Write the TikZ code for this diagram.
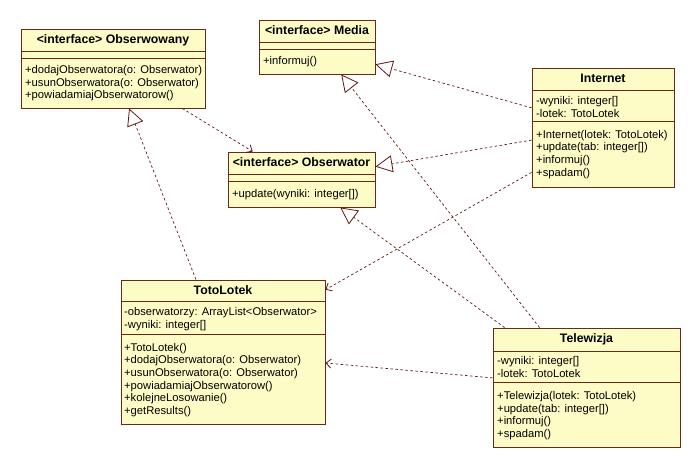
\documentclass[tikz,border=0pt]{standalone}
\usepackage{fontspec}
\setmainfont{Liberation Sans}
\usetikzlibrary{arrows.meta,calc}
\definecolor{clsfill}{RGB}{254,252,198}
\definecolor{clsborder}{RGB}{105,40,25}
\definecolor{connclr}{RGB}{95,25,20}
\begin{document}
\begin{tikzpicture}[x=1pt,y=-1pt,
  cls/.style={draw=clsborder, fill=clsfill, line width=0.9pt, inner sep=0pt, rectangle},
  sepl/.style={draw=clsborder, line width=0.9pt},
  ttl/.style={font=\fontsize{12.3}{14}\selectfont\bfseries, inner sep=0pt, text height=8.5pt, text depth=2.5pt},
  mem/.style={font=\fontsize{11.2}{13}\selectfont, inner sep=0pt, anchor=west, text height=8pt, text depth=2.5pt},
  connline/.style={draw=connclr, line width=0.7pt, dash pattern=on 2.5pt off 2.5pt},
  realize/.style={connline, -{Triangle[open, length=17pt, width=17pt, line width=0.8pt]}},
  depend/.style={connline, -{Straight Barb[length=5pt, width=9pt, line width=0.8pt]}}
]
\useasboundingbox[fill=white] (0,0) rectangle (700,468);

% ---- Obserwowany
\node[cls, minimum width=184pt, minimum height=79pt] (obswany) at (113,68.5) {};
\draw[sepl] ($(obswany.north west)+(0,23)$) -- ($(obswany.north east)+(0,23)$);
\draw[sepl] ($(obswany.north west)+(0,30)$) -- ($(obswany.north east)+(0,30)$);
\node[ttl] (obswany-t) at (113,40.5) {<interface> Obserwowany};
\node[mem] (obswany-m1) at (25,71) {+dodajObserwatora(o: Obserwator)};
\node[mem] (obswany-m2) at (25,83.6) {+usunObserwatora(o: Obserwator)};
\node[mem] (obswany-m3) at (25,96.2) {+powiadamiajObserwatorow()};

% ---- Media
\node[cls, minimum width=116pt, minimum height=54pt] (media) at (317,47) {};
\draw[sepl] ($(media.north west)+(0,23)$) -- ($(media.north east)+(0,23)$);
\draw[sepl] ($(media.north west)+(0,30)$) -- ($(media.north east)+(0,30)$);
\node[ttl] (media-t) at (317,31.5) {<interface> Media};
\node[mem] (media-m1) at (263,62) {+informuj()};

% ---- Obserwator
\node[cls, minimum width=147pt, minimum height=55pt] (obsator) at (301.5,179.5) {};
\draw[sepl] ($(obsator.north west)+(0,23)$) -- ($(obsator.north east)+(0,23)$);
\draw[sepl] ($(obsator.north west)+(0,30)$) -- ($(obsator.north east)+(0,30)$);
\node[ttl] (obsator-t) at (301.5,163.5) {<interface> Obserwator};
\node[mem] (obsator-m1) at (232,194.5) {+update(wyniki: integer[])};

% ---- Internet
\node[cls, minimum width=142pt, minimum height=119pt] (internet) at (603,127.5) {};
\draw[sepl] ($(internet.north west)+(0,23)$) -- ($(internet.north east)+(0,23)$);
\draw[sepl] ($(internet.north west)+(0,54)$) -- ($(internet.north east)+(0,54)$);
\node[ttl] (internet-t) at (603,79.5) {Internet};
\node[mem] (internet-a1) at (536,102) {-wyniki: integer[]};
\node[mem] (internet-a2) at (536,114.6) {-lotek: TotoLotek};
\node[mem] (internet-m1) at (536,135.5) {+Internet(lotek: TotoLotek)};
\node[mem] (internet-m2) at (536,148.1) {+update(tab: integer[])};
\node[mem] (internet-m3) at (536,160.7) {+informuj()};
\node[mem] (internet-m4) at (536,173.3) {+spadam()};

% ---- TotoLotek
\node[cls, minimum width=204pt, minimum height=144pt] (toto) at (223,352) {};
\draw[sepl] ($(toto.north west)+(0,22)$) -- ($(toto.north east)+(0,22)$);
\draw[sepl] ($(toto.north west)+(0,55)$) -- ($(toto.north east)+(0,55)$);
\node[ttl] (toto-t) at (223,291.5) {TotoLotek};
\node[mem] (toto-a1) at (124,313) {-obserwatorzy: ArrayList<Obserwator>};
\node[mem] (toto-a2) at (124,325.6) {-wyniki: integer[]};
\node[mem] (toto-m1) at (124,348.5) {+TotoLotek()};
\node[mem] (toto-m2) at (124,361.1) {+dodajObserwatora(o: Obserwator)};
\node[mem] (toto-m3) at (124,373.7) {+usunObserwatora(o: Obserwator)};
\node[mem] (toto-m4) at (124,386.3) {+powiadamiajObserwatorow()};
\node[mem] (toto-m5) at (124,398.9) {+kolejneLosowanie()};
\node[mem] (toto-m6) at (124,411.5) {+getResults()};

% ---- Telewizja
\node[cls, minimum width=187pt, minimum height=119pt] (tv) at (586.5,387.5) {};
\draw[sepl] ($(tv.north west)+(0,24)$) -- ($(tv.north east)+(0,24)$);
\draw[sepl] ($(tv.north west)+(0,55)$) -- ($(tv.north east)+(0,55)$);
\node[ttl] (tv-t) at (586.5,339.5) {Telewizja};
\node[mem] (tv-a1) at (497,362) {-wyniki: integer[]};
\node[mem] (tv-a2) at (497,374.6) {-lotek: TotoLotek};
\node[mem] (tv-m1) at (497,397) {+Telewizja(lotek: TotoLotek)};
\node[mem] (tv-m2) at (497,409.6) {+update(tab: integer[])};
\node[mem] (tv-m3) at (497,422.2) {+informuj()};
\node[mem] (tv-m4) at (497,434.8) {+spadam()};

% ---- connectors
\draw[realize] ($(internet.north west)!0.336!(internet.south west)$) -- ($(media.north east)!0.815!(media.south east)$);
\draw[realize] ($(internet.north west)!0.605!(internet.south west)$) -- ($(obsator.north east)!0.27!(obsator.south east)$);
\draw[depend] ($(internet.north west)!0.874!(internet.south west)$) -- ($(toto.north east)!0.07!(toto.south east)$);
\draw[realize] ($(tv.north west)!0.25!(tv.north east)$) -- ($(media.south west)!0.707!(media.south east)$);
\draw[realize] ($(tv.north west)!0.064!(tv.north east)$) -- ($(obsator.south west)!0.762!(obsator.south east)$);
\draw[depend] ($(tv.north west)!0.42!(tv.south west)$) -- ($(toto.north east)!0.576!(toto.south east)$);
\draw[realize] ($(toto.north west)!0.368!(toto.north east)$) -- ($(obswany.south west)!0.587!(obswany.south east)$);
\draw[depend] ($(obswany.south west)!0.875!(obswany.south east)$) -- ($(obsator.north west)!0.17!(obsator.north east)$);
\end{tikzpicture}
\end{document}
